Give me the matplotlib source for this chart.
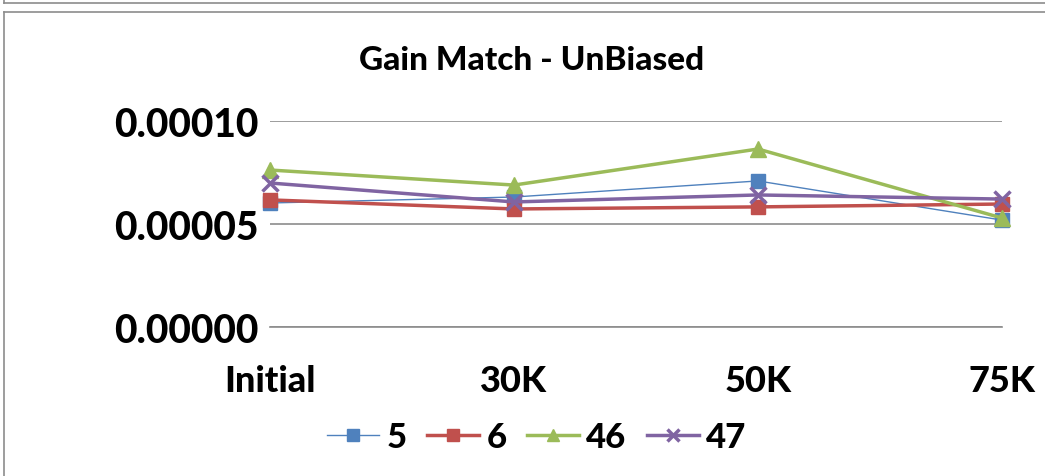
import matplotlib
matplotlib.use('Agg')
import matplotlib.pyplot as plt
from matplotlib.lines import Line2D

categories = ['Initial', '30K', '50K', '75K']
s5 = [0.0000602, 0.0000631, 0.0000709, 0.0000519]
s6 = [0.0000617, 0.0000573, 0.0000583, 0.0000597]
s46 = [0.0000762, 0.0000689, 0.0000864, 0.0000529]
s47 = [0.0000699, 0.0000607, 0.0000641, 0.0000621]
series_names = ['5', '6', '46', '47']
yticks = [0.0, 0.00005, 0.0001]
ytick_labels = ['0.00000', '0.00005', '0.00010']

plt.rcParams['font.family'] = ['Lato', 'DejaVu Sans']

W, H = 1045, 477
fig = plt.figure(figsize=(W / 100, H / 100), dpi=100)
fig.patch.set_facecolor('white')

# outer frames (bottom of previous chart + this chart's border)
frame_c = '#8c8c8c'
fig.add_artist(Line2D([4 / W, 1.0], [1 - 4 / H, 1 - 4 / H], color=frame_c, lw=1.2))
fig.add_artist(Line2D([4 / W, 4 / W], [1.0, 1 - 4 / H], color=frame_c, lw=1.2))
fig.add_artist(Line2D([4 / W, 1.0], [1 - 13 / H, 1 - 13 / H], color=frame_c, lw=1.2))
fig.add_artist(Line2D([4 / W, 4 / W], [0.0, 1 - 13 / H], color=frame_c, lw=1.2))

ax = fig.add_axes([270 / W, 1 - 328 / H, (1002 - 270) / W, (328 - 122) / H])
x = range(len(categories))

styles = [
    (s5, '#4f81bd', 's', 1.0, 10),
    (s6, '#c0504d', 's', 2.5, 10),
    (s46, '#9bbb59', '^', 2.5, 11),
    (s47, '#8064a2', 'x', 2.5, 11),
]
for (vals, col, mk, lw, ms), name in zip(styles, series_names):
    kw = dict(markeredgewidth=2.5) if mk == 'x' else dict(markeredgecolor=col)
    ax.plot(x, vals, color=col, lw=lw, marker=mk, markersize=ms,
            markerfacecolor=col, label=name, clip_on=False, **kw)

ax.set_xlim(0, 3)
ax.set_ylim(0, 0.0001)
ax.set_yticks(yticks)
ax.set_yticklabels(ytick_labels)
ax.set_xticks(list(x))
ax.set_xticklabels(categories)
ax.tick_params(axis='y', length=0, labelsize=28, pad=8)
ax.tick_params(axis='x', length=0, labelsize=26, pad=27)
for lab in ax.get_xticklabels() + ax.get_yticklabels():
    lab.set_fontweight('black')
ax.yaxis.grid(True, color='#8c8c8c', lw=1.2)
ax.set_axisbelow(True)
for side in ['top', 'right', 'left']:
    ax.spines[side].set_visible(False)
ax.spines['bottom'].set_color('#8c8c8c')
ax.spines['bottom'].set_linewidth(1.2)

fig.text(532 / W, 1 - 60 / H, 'Gain Match - UnBiased', ha='center', va='center',
         fontsize=24, fontweight='black')

leg = fig.legend(loc='center', bbox_to_anchor=(537 / W, 1 - 438 / H), ncol=4,
                 frameon=False, prop={'size': 25, 'weight': 'black'},
                 handlelength=1.5, columnspacing=0.6, handletextpad=0.2,
                 markerscale=0.85)

fig.savefig('out.png', dpi=100, facecolor='white')
